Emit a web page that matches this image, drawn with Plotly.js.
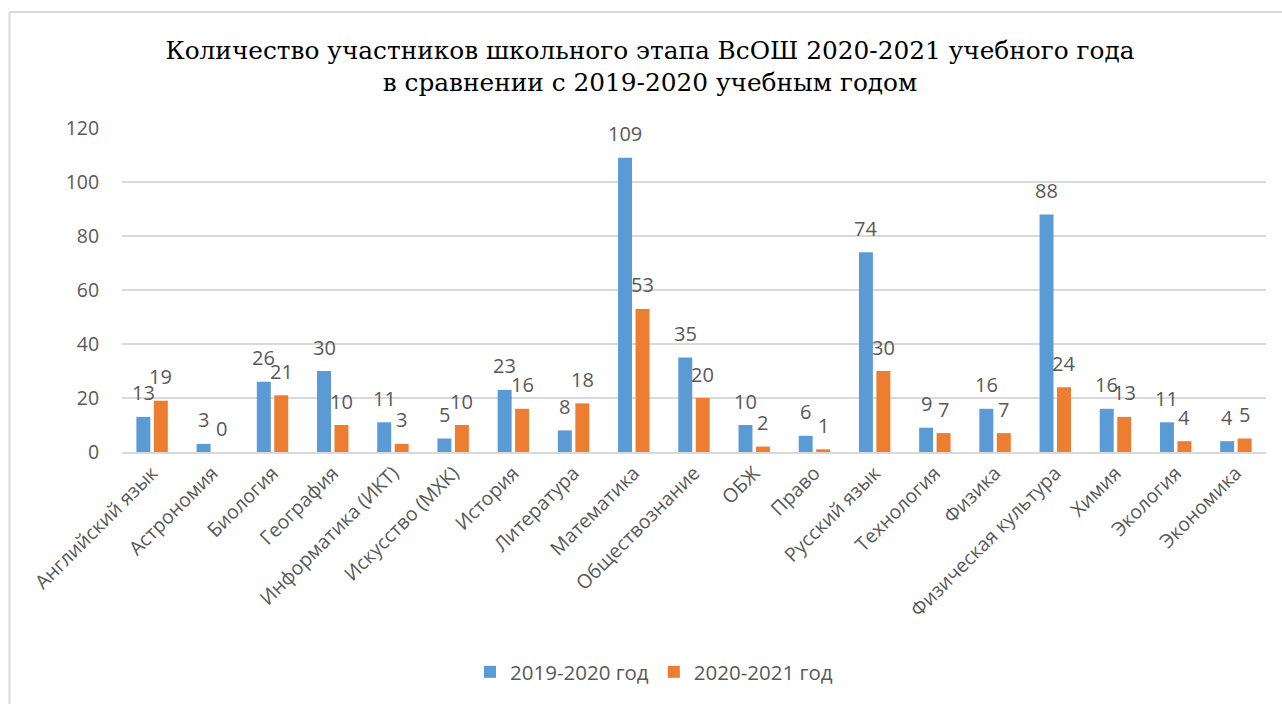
<!DOCTYPE html>
<html>
<head>
<meta charset="utf-8">
<script src="https://cdn.plot.ly/plotly-3.0.1.min.js"></script>
<style>html,body{margin:0;padding:0;background:#fff;}#chart{width:1282px;height:704px;}</style>
</head>
<body>
<div id="chart"></div>
<script>
const categories = ["Английский язык","Астрономия","Биология","География","Информатика (ИКТ)","Искусство (МХК)","История","Литература","Математика","Обществознание","ОБЖ","Право","Русский язык","Технология","Физика","Физическая культура","Химия","Экология","Экономика"];
const series1Name = "2019-2020 год";
const series2Name = "2020-2021 год";
const series1 = [13,3,26,30,11,5,23,8,109,35,10,6,74,9,16,88,16,11,4];
const series2 = [19,0,21,10,3,10,16,18,53,20,2,1,30,7,7,24,13,4,5];
const yTicks = [0,20,40,60,80,100,120];

const W = 1282, H = 704;
const M = {l:122, r:16, t:128, b:252};
const plotW = W - M.l - M.r, plotH = H - M.t - M.b;
const bargap = 0.42, bargroupgap = 0.2;
const catW = plotW / categories.length;
const slotOff = (1 - bargap) * catW / 4;
const labelFont = {family:"Open Sans, sans-serif", size:20, color:"#595959"};

const traces = [
  {type:'bar', name:series1Name, x:categories, y:series1, marker:{color:'#5b9bd5'}, hoverinfo:'x+y'},
  {type:'bar', name:series2Name, x:categories, y:series2, marker:{color:'#ed7d31'}, hoverinfo:'x+y'}
];

const annotations = [];
[[series1,-1],[series2,1]].forEach(([vals,dir]) => {
  vals.forEach((v,i) => {
    annotations.push({x:categories[i], y:v, xref:'x', yref:'y', text:String(v), showarrow:false,
      xanchor:'center', yanchor:'middle', xshift:dir*slotOff, yshift:24, font:labelFont});
  });
});

const px2x = p => (p - M.l) / plotW;
const px2y = p => (H - M.b - p) / plotH;
const shapes = [
  {type:'line', xref:'paper', yref:'paper', x0:px2x(9.5), x1:px2x(9.5), y0:px2y(12), y1:px2y(H+5), line:{color:'#d9d9d9', width:2}},
  {type:'line', xref:'paper', yref:'paper', x0:px2x(9.5), x1:px2x(W+5), y0:px2y(12), y1:px2y(12), line:{color:'#d9d9d9', width:2}}
];

const layout = {
  width:W, height:H, margin:M,
  paper_bgcolor:'#fff', plot_bgcolor:'#fff',
  barmode:'group', bargap:bargap, bargroupgap:bargroupgap,
  title:{text:"Количество участников школьного этапа ВсОШ 2020-2021 учебного года<br>в сравнении с 2019-2020 учебным годом",
    font:{family:"DejaVu Serif, serif", size:24.8, color:'#000'}, x:650/W, xanchor:'center', xref:'container', y:1-59/H, yanchor:'middle', yref:'container'},
  xaxis:{type:'category', tickangle:-45, tickfont:{family:"Open Sans, sans-serif", size:19.5, color:'#595959'},
    showgrid:false, showline:true, linecolor:'#d9d9d9', linewidth:2, ticks:'', fixedrange:true},
  yaxis:{range:[0,120], tickvals:yTicks, ticktext:yTicks.map(String), tickfont:{family:"Open Sans, sans-serif", size:19.5, color:'#595959'},
    showgrid:true, gridcolor:'#d9d9d9', gridwidth:1.5, zeroline:false, showline:false,
    ticks:'outside', ticklen:18, tickcolor:'rgba(0,0,0,0)', fixedrange:true},
  legend:{orientation:'h', x:px2x(654), xanchor:'center', y:px2y(672), yanchor:'middle',
    font:{family:"Open Sans, sans-serif", size:20.5, color:'#595959'}, itemclick:false, itemdoubleclick:false},
  annotations:annotations, shapes:shapes, showlegend:true
};

Plotly.newPlot('chart', traces, layout, {displayModeBar:false, staticPlot:false});
</script>
</body>
</html>
